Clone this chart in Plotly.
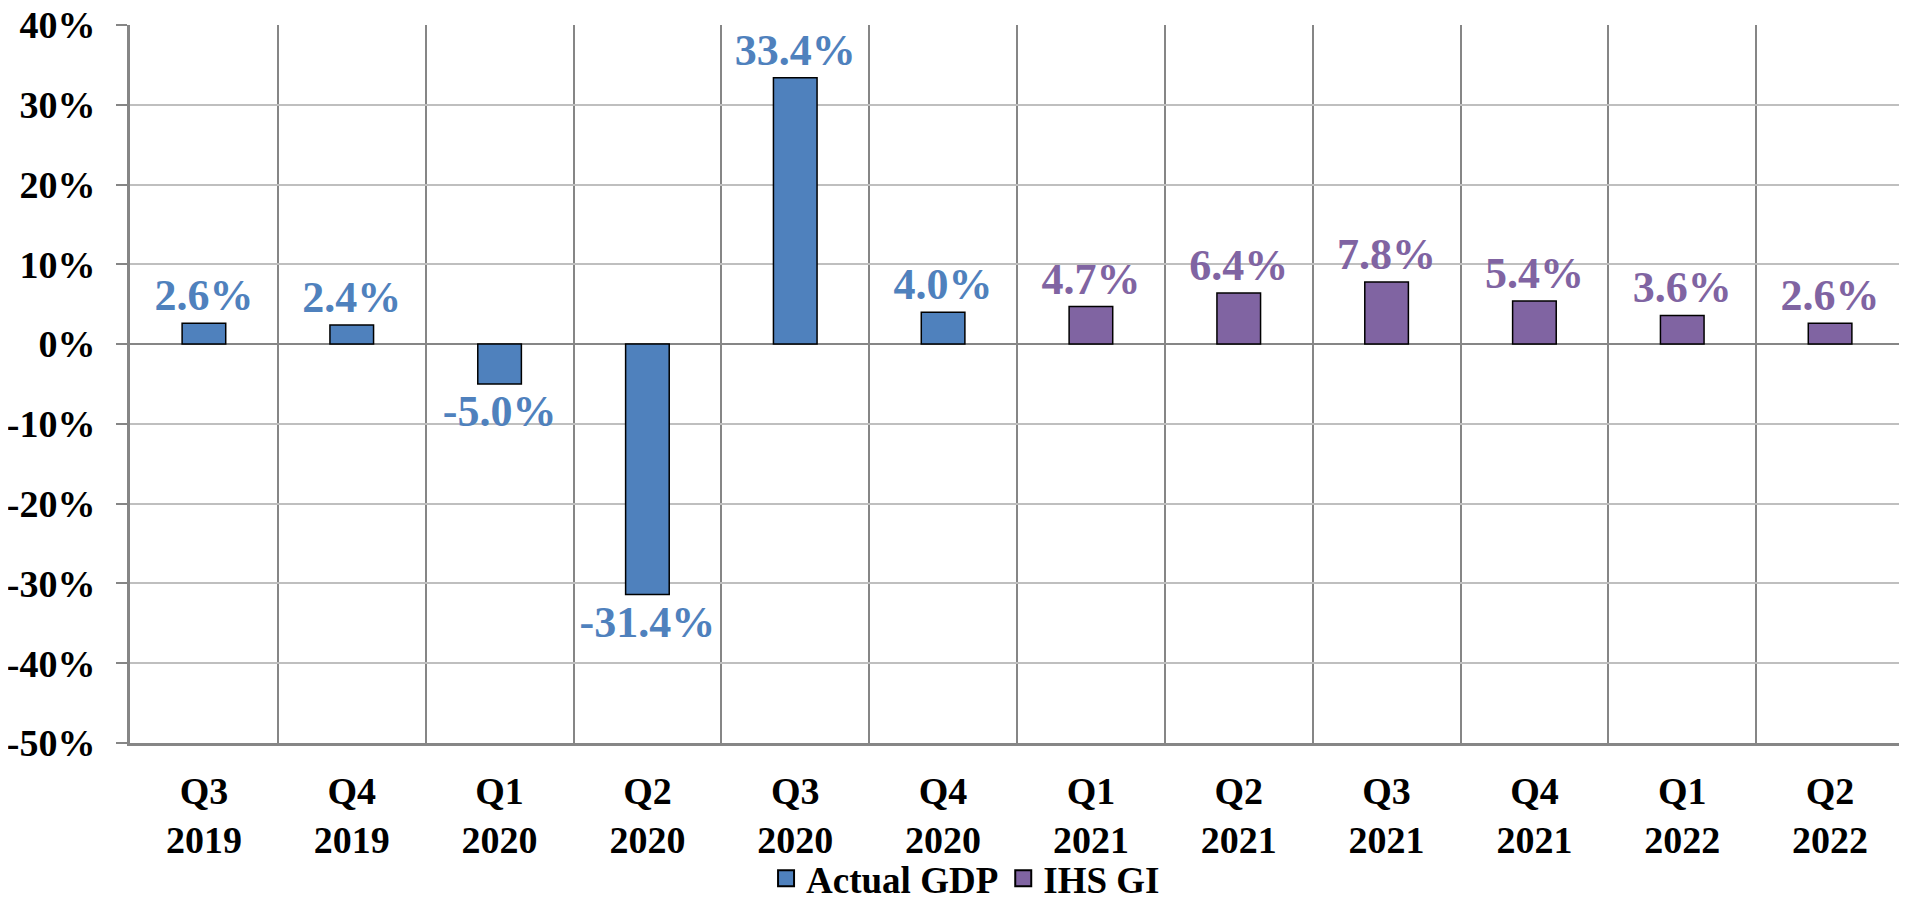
import plotly.graph_objects as go

categories = ["Q3<br>2019", "Q4<br>2019", "Q1<br>2020", "Q2<br>2020", "Q3<br>2020", "Q4<br>2020",
              "Q1<br>2021", "Q2<br>2021", "Q3<br>2021", "Q4<br>2021", "Q1<br>2022", "Q2<br>2022"]
actual_cats = categories[:6]
actual_gdp = [2.6, 2.4, -5.0, -31.4, 33.4, 4.0]
forecast_cats = categories[6:]
ihs_gi = [4.7, 6.4, 7.8, 5.4, 3.6, 2.6]
y_ticks = [-50, -40, -30, -20, -10, 0, 10, 20, 30, 40]
y_labels = [f"{v}%" for v in y_ticks]

BLUE = "#4F81BD"
PURPLE = "#8064A2"
FONT = "Liberation Serif"
GRID_DARK = "#868686"
GRID_LIGHT = "#BFBFBF"

fig = go.Figure()
for name, xs, ys, col in [("Actual GDP", actual_cats, actual_gdp, BLUE),
                          ("IHS GI", forecast_cats, ihs_gi, PURPLE)]:
    fig.add_trace(go.Bar(
        name=name, x=xs, y=ys, width=0.295, showlegend=False, legendgroup=name,
        marker=dict(color=col, line=dict(color="black", width=1.5)),
        texttemplate="<b>%{y:.1f}%</b>", textposition="outside",
        textfont=dict(family=FONT, size=44, color=col),
        constraintext="none", cliponaxis=False,
    ))
# legend entries (square swatches like the reference)
for name, col in [("Actual GDP", BLUE), ("IHS GI", PURPLE)]:
    fig.add_trace(go.Scatter(
        name=name, x=[None], y=[None], mode="markers", legendgroup=name,
        marker=dict(symbol="square", size=16, color=col, line=dict(color="black", width=2)),
    ))

fig.update_layout(
    width=1899, height=895,
    margin=dict(l=122, r=3, t=17, b=160, autoexpand=False),
    paper_bgcolor="white", plot_bgcolor="white",
    barmode="overlay",
    font=dict(family=FONT, color="black"),
    showlegend=True,
    legend=dict(orientation="h", x=0.471, y=-0.189, xanchor="center", yanchor="middle",
                font=dict(family=FONT, size=37, color="black", weight="bold"),
                bgcolor="rgba(0,0,0,0)",
                itemsizing="trace", traceorder="normal", itemwidth=30),
)
fig.update_xaxes(
    type="category", categoryorder="array", categoryarray=categories,
    tickson="boundaries", showgrid=True, gridcolor=GRID_DARK, gridwidth=2,
    ticks="", showline=True, linecolor=GRID_DARK, linewidth=3,
    tickfont=dict(family=FONT, size=38, color="black", weight="bold"),
    ticklabelstandoff=12, range=[-0.5, 11.5], automargin=False,
)
fig.update_yaxes(
    range=[-50, 40], tickvals=y_ticks, ticktext=y_labels,
    showgrid=True, gridcolor=GRID_LIGHT, gridwidth=2,
    zeroline=True, zerolinecolor=GRID_DARK, zerolinewidth=2,
    showline=True, linecolor=GRID_DARK, linewidth=3, mirror=True,
    ticks="outside", ticklen=11, tickwidth=2, tickcolor=GRID_DARK,
    tickfont=dict(family=FONT, size=38, color="black", weight="bold"),
    ticklabelstandoff=13, automargin=False, ticklabeloverflow="allow",
)

fig.write_html("out.html")
